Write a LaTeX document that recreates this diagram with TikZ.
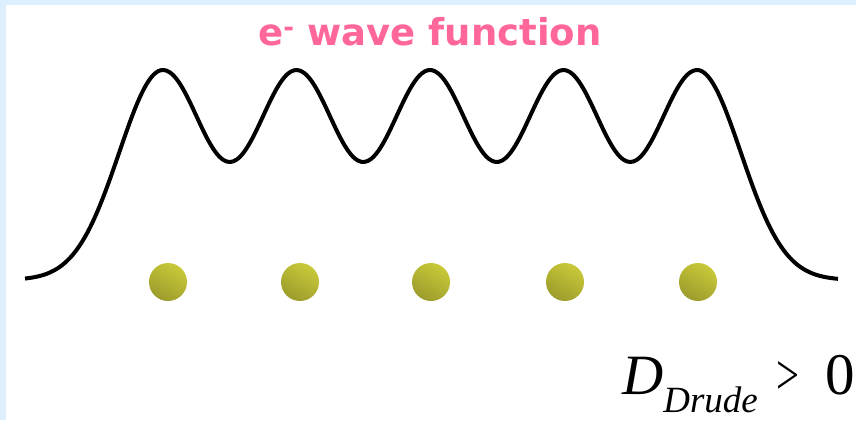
\documentclass[tikz,border=0pt]{standalone}
\usepackage{fontspec}
\setmainfont{Liberation Serif}
\newfontfamily\titlefont{DejaVu Sans}
\usepackage{tikz}
\usetikzlibrary{positioning}
\usepackage{xcolor}
\definecolor{framebg}{HTML}{DDEEFC}
\definecolor{wavepink}{HTML}{FF6699}
\definecolor{ionlight}{HTML}{C9C93A}
\definecolor{iondark}{HTML}{9C9C2C}

\tikzset{ion/.style={circle, minimum size=38pt, inner sep=0pt,
    shading=axis, top color=ionlight, bottom color=iondark, shading angle=-30}}

\begin{document}
\begin{tikzpicture}[x=1pt,y=-1pt]
\useasboundingbox (0,0) rectangle (856,420);
\fill[framebg] (0,0) rectangle (856,420);
\fill[white] (6,5) rectangle (856,420);

\node[anchor=base, text=wavepink, font=\titlefont\bfseries\fontsize{37}{40}\selectfont] (title) at (430,46) {e\textsuperscript{-} wave function};

\draw[line width=4pt, line join=round]
  plot[domain=25:163, samples=60, smooth] (\x, {280-210*exp(-((\x-163)/62)^2)})
  -- plot[domain=163:697, samples=160, smooth] (\x, {116-46*cos(2.6966*(\x-163))})
  -- plot[domain=697:838, samples=60, smooth] (\x, {280-210*exp(-((\x-697)/62)^2)});

\foreach \i/\xx in {1/168, 2/300, 3/431, 4/565, 5/698}
  \node[ion] (ion\i) at (\xx,282) {};

\node[anchor=base west, inner sep=0pt] (drude) at (622,394)
  {\fontsize{57}{60}\selectfont\itshape D\raisebox{-18pt}{\fontsize{37}{40}\selectfont Drude}\upshape
   \hspace{19pt}\scalebox{0.85}[1.2]{\fontsize{48}{50}\selectfont >}\hspace{26pt}\fontsize{59}{60}\selectfont 0};
\end{tikzpicture}
\end{document}
